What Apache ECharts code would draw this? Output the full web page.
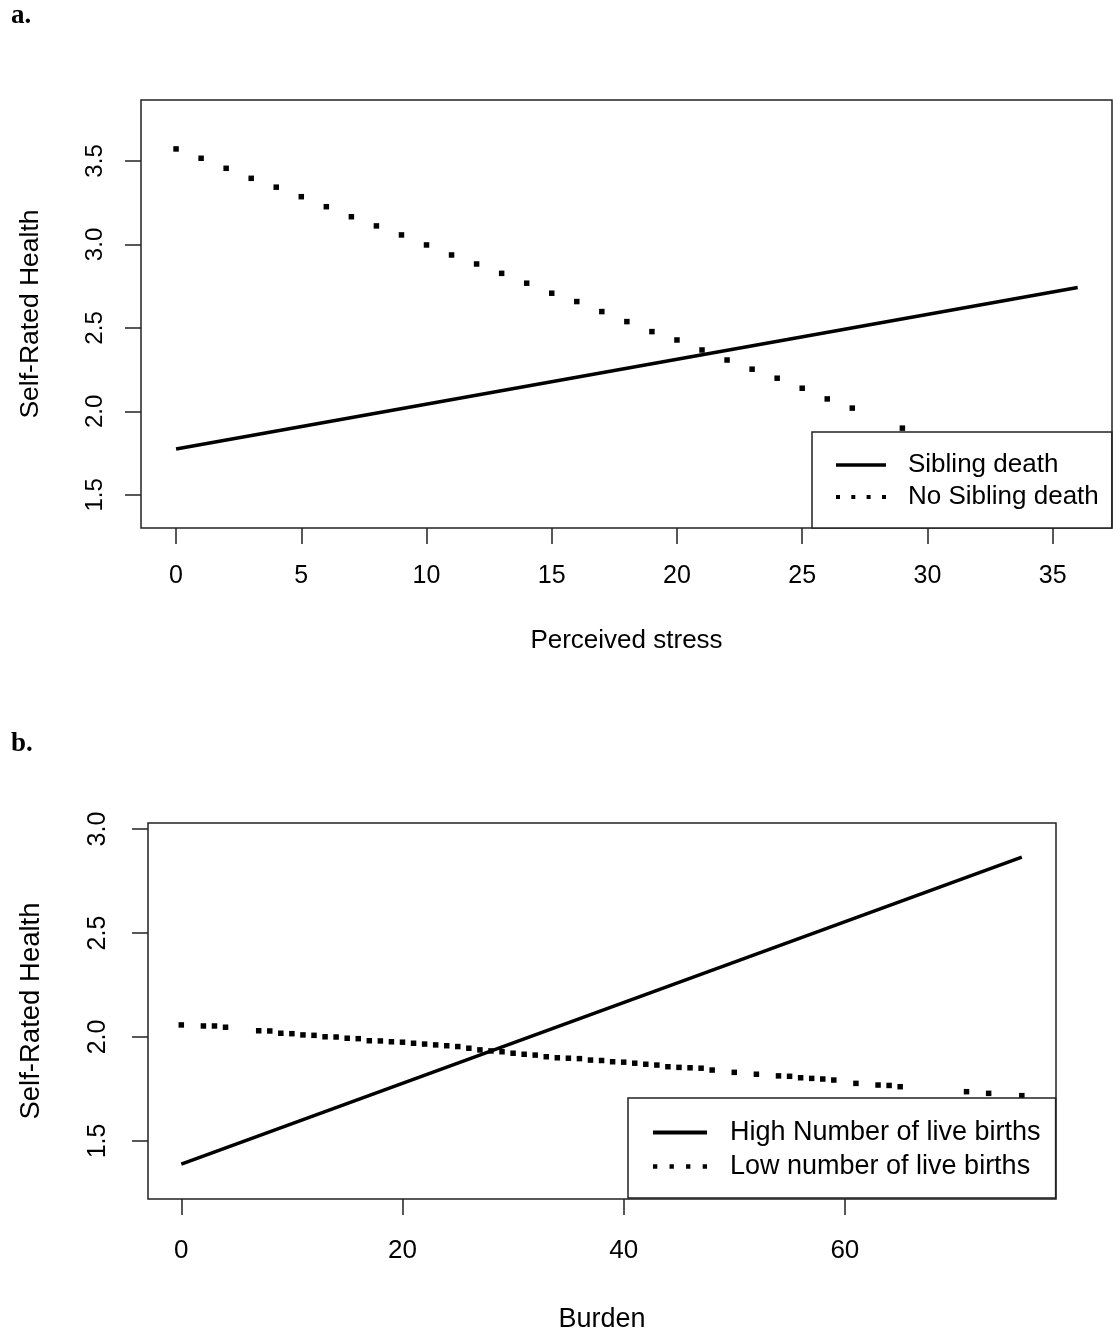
<!DOCTYPE html>
<html>
<head>
<meta charset="utf-8">
<script src="https://cdn.jsdelivr.net/npm/echarts@6/dist/echarts.min.js"></script>
<style>
html,body{margin:0;padding:0;background:#fff;}
#chart{width:1113px;height:1337px;}
</style>
</head>
<body>
<div id="chart"></div>
<script>
// ---------- Panel a ----------
const stressTicks = [0, 5, 10, 15, 20, 25, 30, 35];
const srhTicksA = [1.5, 2.0, 2.5, 3.0, 3.5];
const sibDeathX = [0, 36];
const sibDeathY = [1.775, 2.742];
const noSibDeathX = [0,1,2,3,4,5,6,7,8,9,10,11,12,13,14,15,16,17,18,19,20,21,22,23,24,25,26,27,29];
const noSibDeathY = [3.572,3.516,3.456,3.396,3.343,3.286,3.226,3.166,3.111,3.057,2.997,2.937,2.883,2.827,2.768,2.708,2.658,2.598,2.538,2.478,2.428,2.368,2.308,2.253,2.199,2.139,2.075,2.020,1.900];

// ---------- Panel b ----------
const burdenTicks = [0, 20, 40, 60];
const srhTicksB = [1.5, 2.0, 2.5, 3.0];
const highBirthsX = [0, 76];
const highBirthsY = [1.389, 2.865];
const lowBirthsX = [0,2,3,4,7,8,9,10,11,12,13,14,15,16,17,18,19,20,21,22,23,24,25,26,27,28,29,30,31,32,33,34,35,36,37,38,39,40,41,42,43,44,45,46,47,48,50,52,54,55,56,57,58,59,61,63,64,65,71,73,76];
const lowBirthsY = [2.058,2.053,2.053,2.047,2.030,2.029,2.018,2.016,2.010,2.008,2.001,2.000,1.994,1.992,1.982,1.981,1.977,1.975,1.970,1.966,1.962,1.958,1.954,1.946,1.938,1.933,1.929,1.922,1.917,1.913,1.905,1.900,1.898,1.896,1.889,1.887,1.881,1.879,1.874,1.869,1.865,1.857,1.854,1.852,1.850,1.841,1.830,1.821,1.813,1.811,1.804,1.801,1.798,1.793,1.777,1.769,1.767,1.761,1.737,1.729,1.718];

const zip = (xs, ys) => xs.map((x, i) => [x, ys[i]]);

const FONT = 'Liberation Sans';
const INK = '#000';
const BOX = '#222';

function xAxisCfg(idx, min, max, ticks, name, labelSize, nameSize, margin, nameGap) {
  return {
    type: 'value', gridIndex: idx, min, max,
    name, nameLocation: 'middle', nameGap,
    nameTextStyle: {fontFamily: FONT, fontSize: nameSize, lineHeight: nameSize, color: INK},
    axisLine: {show: false, onZero: false},
    splitLine: {show: false},
    axisTick: {show: true, inside: false, length: 16, customValues: ticks, lineStyle: {color: BOX, width: 1.5}},
    axisLabel: {show: true, customValues: ticks, margin, fontFamily: FONT, fontSize: labelSize, lineHeight: labelSize, color: INK,
      formatter: v => String(v)}
  };
}
function yAxisCfg(idx, min, max, ticks, name, labelSize, nameSize, margin, nameGap) {
  return {
    type: 'value', gridIndex: idx, min, max,
    name, nameLocation: 'middle', nameGap, nameRotate: 90,
    nameTextStyle: {fontFamily: FONT, fontSize: nameSize, lineHeight: nameSize, color: INK},
    axisLine: {show: false, onZero: false},
    splitLine: {show: false},
    axisTick: {show: true, inside: false, length: 16, customValues: ticks, lineStyle: {color: BOX, width: 1.5}},
    axisLabel: {show: true, rotate: 90, customValues: ticks, margin, fontFamily: FONT, fontSize: labelSize, lineHeight: labelSize, color: INK,
      formatter: v => Number(v).toFixed(1)}
  };
}

const solidIcon = 'path://M0 0H50V3.5H0Z';
const dotIcon = 'path://M0 0h4v4H0z M15.3 0h4v4h-4z M30.6 0h4v4h-4z M46 0h4v4h-4z';

const chart = echarts.init(document.getElementById('chart'), null, {renderer: 'canvas'});
chart.setOption({
  animation: false,
  backgroundColor: '#fff',
  title: [
    {text: 'a.', left: 11, top: 3, padding: 0,
     textStyle: {fontFamily: 'Liberation Serif', fontWeight: 'bold', fontSize: 27, lineHeight: 27, color: INK}},
    {text: 'b.', left: 11, top: 731, padding: 0,
     textStyle: {fontFamily: 'Liberation Serif', fontWeight: 'bold', fontSize: 27, lineHeight: 27, color: INK}}
  ],
  grid: [
    {left: 141, top: 100, width: 971, height: 428, show: true, borderColor: BOX, borderWidth: 1.5, backgroundColor: 'transparent', containLabel: false},
    {left: 148, top: 823, width: 908, height: 376, show: true, borderColor: BOX, borderWidth: 1.5, backgroundColor: 'transparent', containLabel: false}
  ],
  xAxis: [
    xAxisCfg(0, -1.40, 37.37, stressTicks, 'Perceived stress', 25, 26, 36, 100),
    xAxisCfg(1, -3.01, 79.09, burdenTicks, 'Burden', 26, 27, 39, 107)
  ],
  yAxis: [
    yAxisCfg(0, 1.302, 3.865, srhTicksA, 'Self-Rated Health', 24, 26.5, 34, 97),
    yAxisCfg(1, 1.221, 3.029, srhTicksB, 'Self-Rated Health', 25, 27.5, 37, 103)
  ],
  legend: [
    {
      orient: 'vertical', left: 812, top: 432,
      padding: [20, 13, 18, 24], itemGap: 6, itemWidth: 50, itemHeight: 14,
      backgroundColor: '#fff', borderColor: BOX, borderWidth: 1.5, borderRadius: 0,
      symbolKeepAspect: true,
      itemStyle: {borderWidth: 0, opacity: 1},
      textStyle: {fontFamily: FONT, fontSize: 26, lineHeight: 26, color: INK, padding: [0, 0, 0, 17]},
      data: [{name: 'Sibling death', icon: solidIcon}, {name: 'No Sibling death', icon: dotIcon}],
      selectedMode: false, z: 10
    },
    {
      orient: 'vertical', left: 628, top: 1098,
      padding: [21, 15, 18, 25], itemGap: 7, itemWidth: 54, itemHeight: 14,
      backgroundColor: '#fff', borderColor: BOX, borderWidth: 1.5, borderRadius: 0,
      symbolKeepAspect: true,
      itemStyle: {borderWidth: 0, opacity: 1},
      textStyle: {fontFamily: FONT, fontSize: 27, lineHeight: 27, color: INK, padding: [0, 0, 0, 18]},
      data: [{name: 'High Number of live births', icon: solidIcon}, {name: 'Low number of live births', icon: dotIcon}],
      selectedMode: false, z: 10
    }
  ],
  series: [
    {name: 'Sibling death', type: 'line', xAxisIndex: 0, yAxisIndex: 0, data: zip(sibDeathX, sibDeathY),
     symbol: 'none', lineStyle: {color: INK, width: 3.5}, itemStyle: {color: INK}, z: 3},
    {name: 'No Sibling death', type: 'scatter', xAxisIndex: 0, yAxisIndex: 0, data: zip(noSibDeathX, noSibDeathY),
     symbol: 'rect', symbolSize: 5.5, itemStyle: {color: INK, opacity: 1}, z: 3},
    {name: 'High Number of live births', type: 'line', xAxisIndex: 1, yAxisIndex: 1, data: zip(highBirthsX, highBirthsY),
     symbol: 'none', lineStyle: {color: INK, width: 3.5}, itemStyle: {color: INK}, z: 3},
    {name: 'Low number of live births', type: 'scatter', xAxisIndex: 1, yAxisIndex: 1, data: zip(lowBirthsX, lowBirthsY),
     symbol: 'rect', symbolSize: 5.5, itemStyle: {color: INK, opacity: 1}, z: 3}
  ]
});
</script>
</body>
</html>
